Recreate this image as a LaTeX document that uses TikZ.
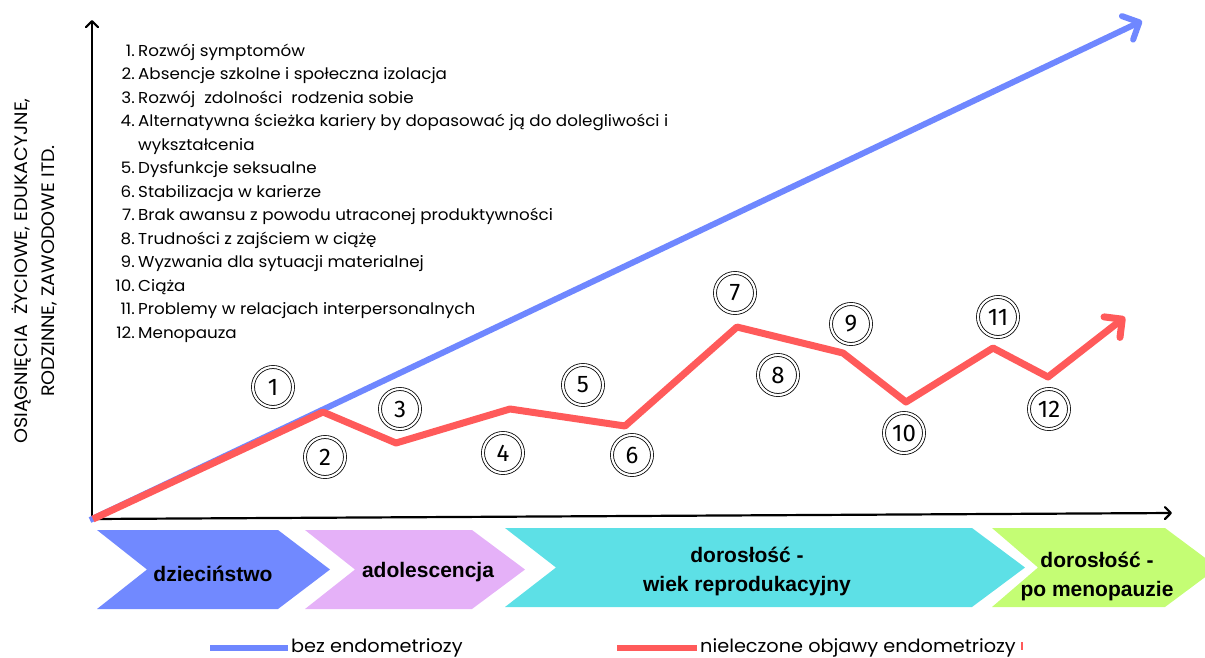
\documentclass[tikz,border=0pt]{standalone}
\usepackage{fontspec}
\setmainfont{Poppins}[FakeStretch=1.06]
\newfontfamily\chevfont{Liberation Sans}
\newfontfamily\numfont{Fira Sans}
\usetikzlibrary{arrows.meta}

\definecolor{lineblue}{HTML}{6F87FF}
\definecolor{linered}{HTML}{FF5A5A}
\definecolor{chevblue}{HTML}{7189FF}
\definecolor{chevpurple}{HTML}{E5B1F8}
\definecolor{chevcyan}{HTML}{5DE0E6}
\definecolor{chevgreen}{HTML}{C4FD74}

\begin{document}
\begin{tikzpicture}[x=1pt,y=-1pt,
  axisline/.style={line width=2.2pt,-{Straight Barb[length=6pt,width=12pt,round]}},
  trend/.style={line width=#1,line join=round,-{Straight Barb[length=13pt,width=26pt,round]}},
  marker/.style={circle,draw=black,line width=0.8pt,double=white,double distance=2.2pt,
    fill=white,minimum size=40pt,inner sep=0pt,font=\numfont\fontsize{24}{24}\selectfont},
  num/.style={anchor=base east,inner sep=0pt,font=\fontsize{15.8}{18}\selectfont},
  item/.style={anchor=base west,inner sep=0pt,font=\fontsize{15.8}{18}\selectfont},
  chevlabel/.style={align=center,inner sep=0pt,
    font=\chevfont\bfseries\fontsize{21}{29}\selectfont},
  legendline/.style={line width=6pt},
  legendtext/.style={anchor=west,inner sep=0pt,font=\fontsize{18.2}{20}\selectfont},
]
\useasboundingbox (0,0) rectangle (1205,657);

% life stages
\fill[chevblue]   (97,530) -- (278,530) -- (330,569.5) -- (278,609) -- (97,609) -- (147,569.5) -- cycle;
\fill[chevpurple] (305,530) -- (472,530) -- (525,569.5) -- (472,609) -- (305,609) -- (355,569.5) -- cycle;
\fill[chevcyan]   (505,528) -- (972,528) -- (1025,567.5) -- (972,607) -- (505,607) -- (556,567.5) -- cycle;
\fill[chevgreen]  (992,528) -- (1165,528) -- (1218,567.5) -- (1165,607) -- (992,607) -- (1038,567.5) -- cycle;
\node[chevlabel] (s1) at (213,574) {dzieciństwo};
\node[chevlabel] (s2) at (428,572) {adolescencja};
\node[chevlabel] (s3) at (747,571) {dorosłość -\\wiek reprodukacyjny};
\node[chevlabel] (s4) at (1097,576) {dorosłość -\\po menopauzie};

% axes
\coordinate (o) at (92,519);
\coordinate (ytip) at (92,20);
\coordinate (xtip) at (1172,513);
\draw[axisline] (o) -- (ytip);
\draw[axisline] (o) -- (xtip);

\node[rotate=90,align=center,inner sep=0pt,font=\fontsize{18}{27}\selectfont] (ylab) at (34,271)
  {OSIĄGNIĘCIA\ \ ŻYCIOWE, EDUKACYJNE,\\RODZINNE, ZAWODOWE ITD.};

% course without endometriosis
\coordinate (b0) at (90,520);
\coordinate (b1) at (1142,21);
\draw[trend=6pt,lineblue] (b0) -- (b1);

% course with untreated symptoms
\coordinate (r0) at (93,519);
\coordinate (r1) at (323,412);
\coordinate (r2) at (396,443);
\coordinate (r3) at (510,409);
\coordinate (r4) at (625,426);
\coordinate (r5) at (737,327);
\coordinate (r6) at (843,353);
\coordinate (r7) at (906,402);
\coordinate (r8) at (993,348);
\coordinate (r9) at (1048,377);
\coordinate (r10) at (1125,317);
\draw[trend=7pt,linered] (r0) -- (r1) -- (r2) -- (r3) -- (r4) -- (r5) -- (r6) -- (r7) -- (r8) -- (r9) -- (r10);

% numbered events
\foreach \i/\x/\y in {1/273/387,2/325/457,3/400/409,4/503/453,5/583/385,6/632/455,
                      7/735/293,8/778/375,9/851/324,10/904/433,11/998/317,12/1049/409}
  \node[marker] (c\i) at (\x,\y) {\i};

% list of events
\foreach \i/\y/\t in {1/56/Rozwój symptomów,
                      2/79.5/Absencje szkolne i społeczna izolacja,
                      3/103/Rozwój\ \ zdolności\ \ rodzenia sobie,
                      4/126.5/Alternatywna ścieżka kariery by dopasować ją do dolegliwości i,
                      5/173.5/Dysfunkcje seksualne,
                      6/197/Stabilizacja w karierze,
                      7/220.5/Brak awansu z powodu utraconej produktywności,
                      8/244/Trudności z zajściem w ciążę,
                      9/267.5/Wyzwania dla sytuacji materialnej,
                      10/291/Ciąża,
                      11/314.5/Problemy w relacjach interpersonalnych,
                      12/338/Menopauza}{
  \node[num] (n\i) at (135,\y) {\i.};
  \node[item] (t\i) at (138,\y) {\t};
}
\node[item] (t4b) at (138,150) {wykształcenia};

% legend
\coordinate (lb0) at (210,648);
\coordinate (lb1) at (288,648);
\draw[legendline,lineblue] (lb0) -- (lb1);
\node[legendtext] (lbt) at (291,648) {bez endometriozy};
\coordinate (lr0) at (617,648);
\coordinate (lr1) at (697,648);
\draw[legendline,linered] (lr0) -- (lr1);
\node[legendtext] (lrt) at (700,648) {nieleczone objawy endometriozy};
\coordinate (tick0) at (1022,642);
\coordinate (tick1) at (1022,650);
\draw[linered,line width=1.5pt] (tick0) -- (tick1);
\end{tikzpicture}
\end{document}
